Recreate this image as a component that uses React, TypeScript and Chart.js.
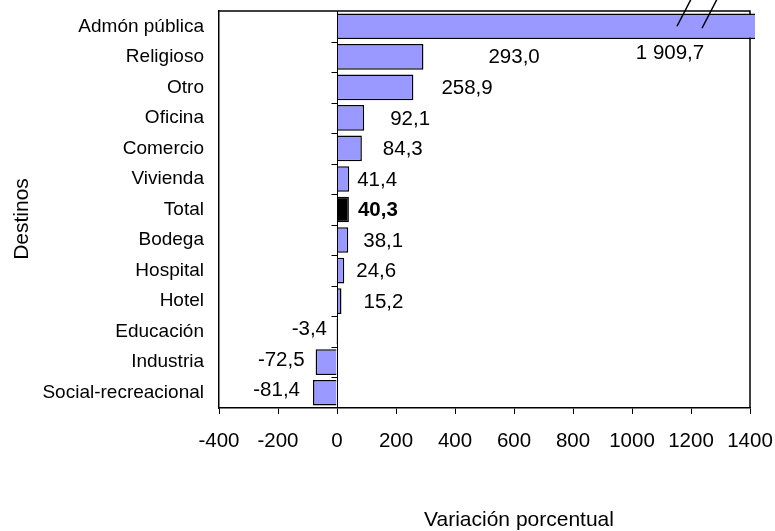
import React, { useEffect, useRef } from "react";
import { Chart, registerables } from "chart.js";

Chart.register(...registerables);

const categories = [
  "Admón pública",
  "Religioso",
  "Otro",
  "Oficina",
  "Comercio",
  "Vivienda",
  "Total",
  "Bodega",
  "Hospital",
  "Hotel",
  "Educación",
  "Industria",
  "Social-recreacional",
];

const values = [1909.7, 293.0, 258.9, 92.1, 84.3, 41.4, 40.3, 38.1, 24.6, 15.2, -3.4, -72.5, -81.4];

const highlighted = ["Total"];

const xMin = -400;
const xMax = 1400;
const xStep = 200;

const xTitle = "Variación porcentual";
const yTitle = "Destinos";

const FONT = "'Liberation Sans', Arial, Helvetica, sans-serif";

function fmt(v: number): string {
  const parts = Math.abs(v).toFixed(1).split(".");
  const intPart = parts[0].replace(/\B(?=(\d{3})+(?!\d))/g, " ");
  return (v < 0 ? "-" : "") + intPart + "," + parts[1];
}

// pixel gaps between bar end and its label (label placement)
const labelGap = [0, 65, 28, 26, 21, 8, 9, 15, 12, 22, 9, 11, 13];

const customPlugin = {
  id: "customDecor",
  beforeDatasetsDraw(chart: any) {
    const { ctx, chartArea: a } = chart;
    ctx.save();
    ctx.strokeStyle = "#000";
    ctx.lineWidth = 1.5;
    ctx.beginPath();
    ctx.moveTo(a.left, a.top);
    ctx.lineTo(a.right, a.top);
    ctx.lineTo(a.right, a.bottom);
    ctx.stroke();
    ctx.restore();
  },
  afterDatasetsDraw(chart: any) {
    const { ctx, chartArea: a, scales } = chart;
    const x = scales.x;
    const y = scales.y;
    const meta = chart.getDatasetMeta(0);
    ctx.save();
    // zero line with category ticks
    const x0 = Math.round(x.getPixelForValue(0)) + 0.5;
    ctx.strokeStyle = "#000";
    ctx.lineWidth = 1;
    ctx.beginPath();
    ctx.moveTo(x0, a.top);
    ctx.lineTo(x0, a.bottom);
    for (let i = 1; i < categories.length; i++) {
      const yy = Math.round((y.getPixelForValue(i - 1) + y.getPixelForValue(i)) / 2) + 0.5;
      ctx.moveTo(x0 - 6, yy);
      ctx.lineTo(x0, yy);
    }
    ctx.stroke();

    // value labels
    ctx.fillStyle = "#000";
    ctx.textBaseline = "middle";
    meta.data.forEach((bar: any, i: number) => {
      const v = values[i];
      const bold = highlighted.includes(categories[i]);
      ctx.font = (bold ? "bold " : "") + "20.5px " + FONT;
      const endX = x.getPixelForValue(v);
      if (v > x.max) {
        ctx.textAlign = "center";
        ctx.fillText(fmt(v), a.right - 80, bar.y + bar.height / 2 + 14);
      } else if (v >= 0) {
        ctx.textAlign = "left";
        ctx.fillText(fmt(v), endX + labelGap[i], bar.y + 1);
      } else {
        ctx.textAlign = "right";
        ctx.fillText(fmt(v), endX - labelGap[i], bar.y - 2);
      }
    });
    ctx.restore();
  },
  afterDraw(chart: any) {
    const { ctx, chartArea: a, scales } = chart;
    const meta = chart.getDatasetMeta(0);
    ctx.save();
    // break marks on overflowing bar
    values.forEach((v, i) => {
      if (v > scales.x.max) {
        const by = meta.data[i].y;
        ctx.strokeStyle = "#000";
        ctx.lineWidth = 1.5;
        ctx.beginPath();
        ctx.moveTo(a.right - 73, by);
        ctx.lineTo(a.right - 59, by - 27);
        ctx.moveTo(a.right - 48, by + 2);
        ctx.lineTo(a.right - 33, by - 27);
        ctx.stroke();
      }
    });
    // axis titles
    ctx.fillStyle = "#000";
    ctx.font = "21px " + FONT;
    ctx.textAlign = "center";
    ctx.textBaseline = "alphabetic";
    ctx.fillText(xTitle, 519, 526);
    ctx.translate(28, 219);
    ctx.rotate(-Math.PI / 2);
    ctx.fillText(yTitle, 0, 0);
    ctx.restore();
  },
};

export default function App() {
  const canvasRef = useRef<HTMLCanvasElement | null>(null);

  useEffect(() => {
    document.body.style.margin = "0";
    const canvas = canvasRef.current;
    if (!canvas) return;
    Chart.defaults.font.family = FONT;
    Chart.defaults.color = "#000";

    const chart = new Chart(canvas, {
      type: "bar",
      data: {
        labels: categories,
        datasets: [
          {
            data: values,
            backgroundColor: categories.map((c) => (highlighted.includes(c) ? "#000000" : "#9999FF")),
            borderColor: "#000000",
            borderWidth: 1.5,
            barPercentage: 0.84,
            categoryPercentage: 1,
            clip: { left: 0, top: 0, right: 5, bottom: 0 } as any,
          },
        ],
      },
      options: {
        indexAxis: "y",
        responsive: false,
        animation: false,
        devicePixelRatio: 1,
        layout: { padding: { top: 11, right: 25, left: 0, bottom: 0 } },
        plugins: {
          legend: { display: false },
          tooltip: { enabled: false },
          title: { display: false },
        },
        scales: {
          x: {
            type: "linear",
            min: xMin,
            max: xMax,
            ticks: {
              stepSize: xStep,
              padding: 15,
              font: { size: 20.5, family: FONT },
              color: "#000",
              callback: (v: any) => String(v),
            },
            grid: {
              display: true,
              drawOnChartArea: false,
              drawTicks: true,
              tickLength: 6,
              color: "#000",
              lineWidth: 1,
            },
            border: { display: true, color: "#000", width: 1.5 },
            afterFit: (scale: any) => {
              scale.height = 123;
              scale.paddingLeft = 0;
              scale.paddingRight = 0;
              scale.paddingTop = 0;
              scale.paddingBottom = 0;
            },
          },
          y: {
            ticks: {
              padding: 15,
              font: { size: 19, family: FONT },
              color: "#000",
            },
            grid: { display: false, drawOnChartArea: false, drawTicks: false },
            border: { display: true, color: "#000", width: 1.5 },
            afterFit: (scale: any) => {
              scale.width = 219;
              scale.paddingLeft = 0;
              scale.paddingRight = 0;
              scale.paddingTop = 0;
              scale.paddingBottom = 0;
            },
          },
        },
      } as any,
      plugins: [customPlugin],
    });

    return () => {
      chart.destroy();
    };
  }, []);

  return (
    <div style={{ width: 775, height: 531, background: "#fff" }}>
      <canvas ref={canvasRef} width={775} height={531} style={{ display: "block" }} />
    </div>
  );
}
